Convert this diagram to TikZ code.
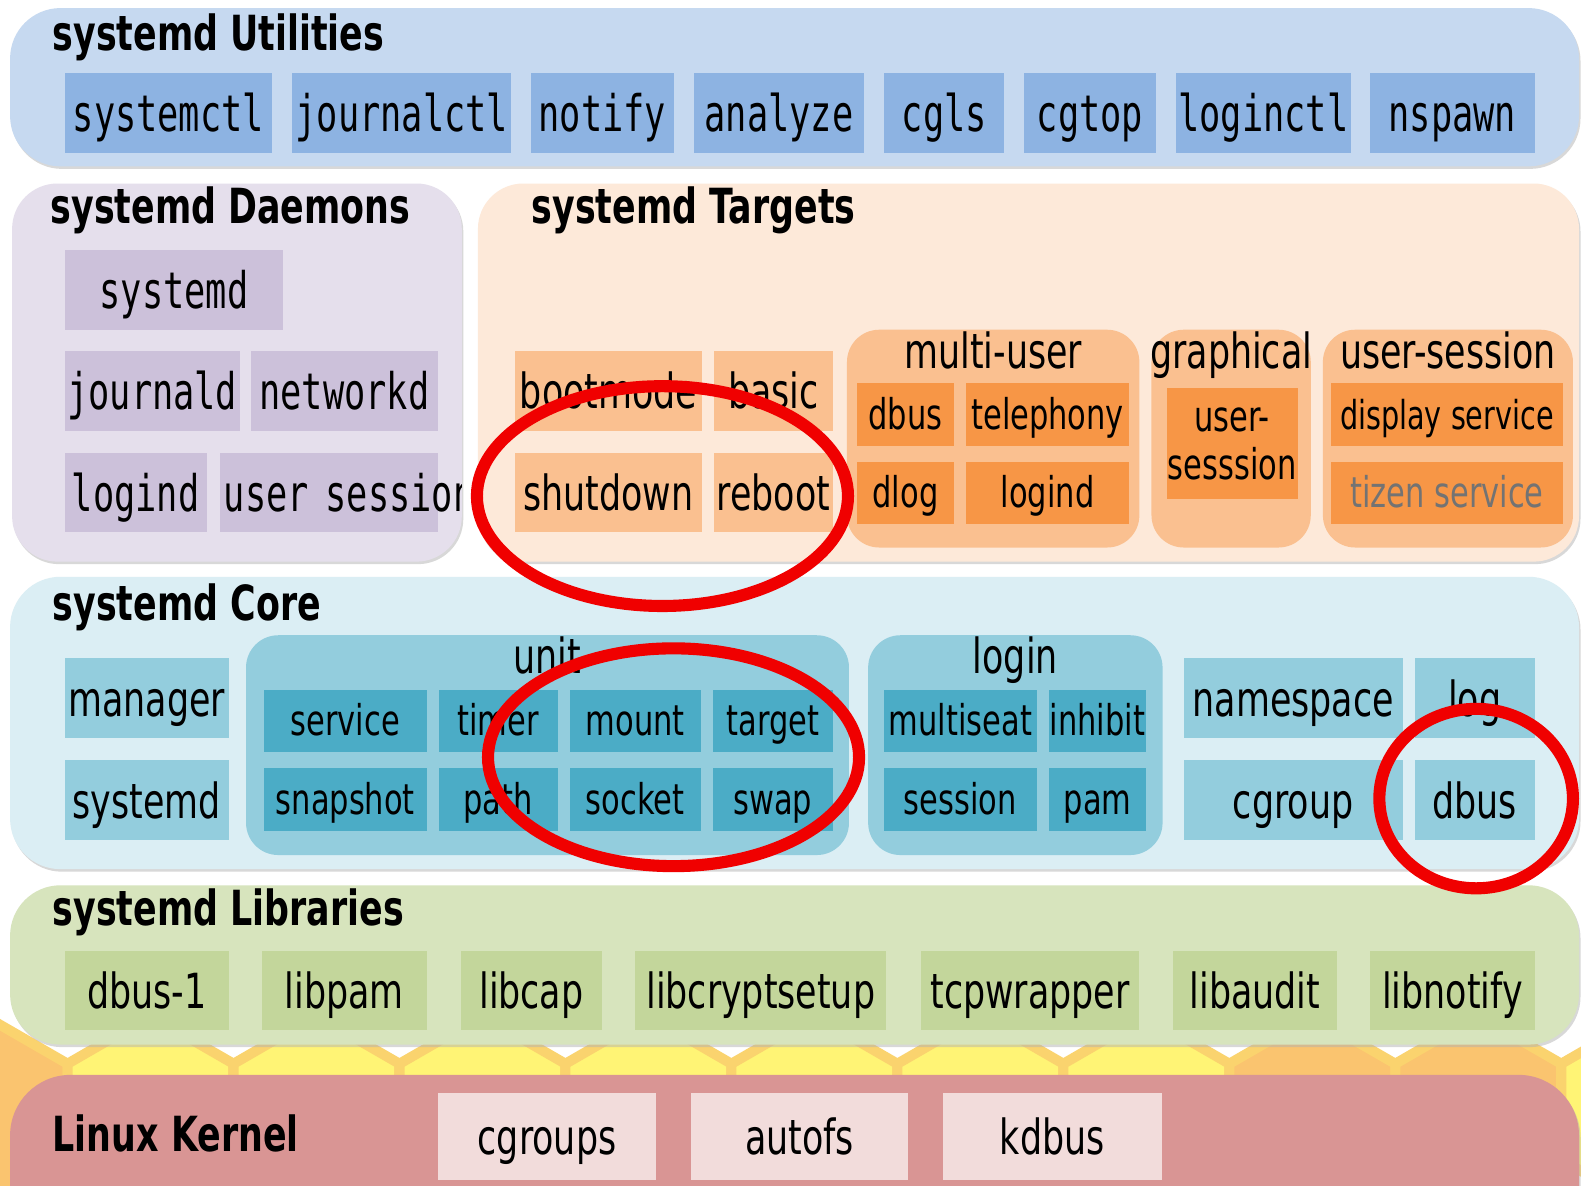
\documentclass[tikz,border=0pt]{standalone}
\usepackage{fontspec}
\setmainfont{DejaVu Sans}[FakeStretch=0.72]
\setmonofont{DejaVu Sans Mono}[FakeStretch=0.7]
\usetikzlibrary{positioning,shadows}

\definecolor{utilbg}{HTML}{C6D9F0}
\definecolor{utilbox}{HTML}{8DB3E2}
\definecolor{daemonbg}{HTML}{E5DFEC}
\definecolor{daemonbox}{HTML}{CCC1DA}
\definecolor{targetbg}{HTML}{FDE9D9}
\definecolor{targetbox}{HTML}{FAC090}
\definecolor{targetin}{HTML}{F79646}
\definecolor{corebg}{HTML}{DBEEF4}
\definecolor{corebox}{HTML}{93CDDD}
\definecolor{corein}{HTML}{4BACC6}
\definecolor{libbg}{HTML}{D7E4BD}
\definecolor{libbox}{HTML}{C3D69B}
\definecolor{kernbg}{HTML}{D99594}
\definecolor{kernbox}{HTML}{F2DCDB}
\definecolor{honey}{HTML}{FFF475}
\definecolor{honeyedge}{HTML}{FAD36E}
\definecolor{honeydark}{HTML}{FAC46F}
\definecolor{ringred}{HTML}{F00000}

\begin{document}
\begin{tikzpicture}[x=1pt, y=1pt,
  box/.style={inner sep=0pt, outer sep=0pt, minimum height=79pt, text height=42pt, text depth=6pt, font=\fontsize{48}{52}\selectfont},
  monobox/.style={box, text height=43pt, font=\ttfamily\fontsize{50}{54}\selectfont},
  inbox/.style={box, minimum height=62pt, text height=35pt, font=\fontsize{42}{48}\selectfont},
  ubox/.style={monobox, fill=utilbox, minimum height=80pt},
  dbox/.style={monobox, fill=daemonbox},
  tbox/.style={box, fill=targetbox},
  tin/.style={inbox, fill=targetin},
  cbox/.style={box, fill=corebox},
  cin/.style={inbox, fill=corein},
  lbox/.style={box, fill=libbox},
  kbox/.style={box, fill=kernbox, minimum height=86pt, text height=41pt},
  grp/.style={inner sep=0pt, outer sep=0pt, rounded corners=32pt, anchor=north west},
  gtitle/.style={inner sep=0pt, anchor=base, font=\fontsize{48}{52}\selectfont},
  title/.style={inner sep=0pt, anchor=base west, font=\bfseries\fontsize{48}{52}\selectfont},
  panel/.style={rounded corners=#1, drop shadow={shadow xshift=1.5pt, shadow yshift=-2.5pt, fill=black!30}},
  ring/.style={draw=ringred, line width=12pt}
]
\useasboundingbox (0,0) rectangle (1568,-1176);
\fill[white] (0,0) rectangle (1568,-1176);

% honeycomb under the kernel
\foreach \k/\col in {-1/honeydark,0/honey,1/honey,2/honey,3/honey,4/honey,5/honey,6/honey,7/honeydark,8/honeydark,9/honey}{
  \pgfmathsetmacro{\cx}{149.3+164.6*\k}
  \draw[draw=honeyedge, line width=10pt, fill=\col] (\cx,-1007.5) -- ++(82.3,-47.5) -- ++(0,-95)
    -- ++(-82.3,-47.5) -- ++(-82.3,47.5) -- ++(0,95) -- cycle;
}

% panels
\path[fill=utilbg, panel=50pt] (10,-8) rectangle (1566,-165);
\path[fill=daemonbg, panel=45pt] (12,-182) rectangle (458,-557);
\path[fill=targetbg, panel=45pt] (474,-182) rectangle (1566,-557);
\path[fill=corebg, panel=50pt] (10,-572) rectangle (1566,-862);
\path[fill=libbg, panel=50pt] (10,-878) rectangle (1566,-1036);
\path[fill=kernbg, panel=60pt] (10,-1066) rectangle (1566,-1240);

% systemd Utilities
\node[title] (utiltitle) at (52,-50) {systemd Utilities};
\node[ubox, minimum width=206pt, anchor=north west] (systemctl) at (64,-72) {systemctl};
\node[ubox, minimum width=217pt, right=20pt of systemctl] (journalctl) {journalctl};
\node[ubox, minimum width=141pt, right=20pt of journalctl] (notify) {notify};
\node[ubox, minimum width=169pt, right=20pt of notify] (analyze) {analyze};
\node[ubox, minimum width=119pt, right=20pt of analyze] (cgls) {cgls};
\node[ubox, minimum width=130pt, right=20pt of cgls] (cgtop) {cgtop};
\node[ubox, minimum width=174pt, right=20pt of cgtop] (loginctl) {loginctl};
\node[ubox, minimum width=163pt, right=19pt of loginctl] (nspawn) {nspawn};

% systemd Daemons
\node[title] (daemontitle) at (50,-222) {systemd Daemons};
\node[dbox, minimum width=217pt, anchor=north west] (systemd) at (64,-248) {systemd};
\node[dbox, minimum width=174pt, anchor=north west] (journald) at (64,-348) {journald};
\node[dbox, minimum width=185pt, right=11pt of journald] (networkd) {networkd};
\node[dbox, minimum width=141pt, anchor=north west] (logind) at (64,-449) {logind};
\begin{scope}
  \clip (12,-182) rectangle (458,-557);
  \node[dbox, inner xsep=4pt, text width=208pt, align=left, right=13pt of logind] (usersession) {\mbox{user session}};
\end{scope}

% systemd Targets
\node[title] (targettitle) at (527,-222) {systemd Targets};
\node[tbox, minimum width=185pt, anchor=north west] (bootmode) at (511,-348) {bootmode};
\node[tbox, minimum width=118pt, right=12pt of bootmode] (basic) {basic};
\node[tbox, minimum width=185pt, anchor=north west] (shutdown) at (511,-449) {shutdown};
\node[tbox, minimum width=118pt, right=12pt of shutdown] (reboot) {reboot};

\node[grp, fill=targetbox, minimum width=290pt, minimum height=216pt] (multiuser) at (840,-327) {};
\node[gtitle] (multiusertitle) at ([yshift=-38pt]multiuser.north) {multi-user};
\node[tin, minimum width=96pt, anchor=north west] (mudbus) at (850,-380) {dbus};
\node[tin, minimum width=162pt, right=12pt of mudbus] (telephony) {telephony};
\node[tin, minimum width=96pt, anchor=north west] (dlog) at (850,-458) {dlog};
\node[tin, minimum width=162pt, right=12pt of dlog] (mulogind) {logind};

\node[grp, fill=targetbox, minimum width=158pt, minimum height=216pt] (graphical) at (1142,-327) {};
\node[gtitle] (graphicaltitle) at ([yshift=-38pt]graphical.north) {graphical};
\node[tin, minimum width=130pt, minimum height=110pt, anchor=north west, align=center,
  text height=, text depth=] (gusersess) at (1157,-385) {user-\\sesssion};

\node[grp, fill=targetbox, minimum width=248pt, minimum height=216pt] (usersess) at (1312,-327) {};
\node[gtitle] (usersesstitle) at ([yshift=-38pt]usersess.north) {user-session};
\node[tin, minimum width=230pt, anchor=north west, font=\fontsize{39.5}{44}\selectfont] (display) at (1320,-380) {display service};
\node[tin, minimum width=230pt, anchor=north west, text=black!55] (tizen) at (1320,-458) {tizen service};

% systemd Core
\node[title] (coretitle) at (52,-615) {systemd Core};
\node[cbox, minimum width=163pt, anchor=north west] (manager) at (64,-653) {manager};
\node[cbox, minimum width=163pt, anchor=north west] (csystemd) at (64,-754) {systemd};

\node[grp, fill=corebox, minimum width=598pt, minimum height=218pt] (unit) at (244,-630) {};
\node[gtitle] (unittitle) at ([yshift=-38pt]unit.north) {unit};
\node[cin, minimum width=161pt, anchor=north west] (service) at (262,-684) {service};
\node[cin, minimum width=118pt, right=12pt of service] (timer) {timer};
\node[cin, minimum width=130pt, right=12pt of timer] (mount) {mount};
\node[cin, minimum width=119pt, right=12pt of mount] (target) {target};
\node[cin, minimum width=161pt, anchor=north west] (snapshot) at (262,-762) {snapshot};
\node[cin, minimum width=118pt, right=12pt of snapshot] (path) {path};
\node[cin, minimum width=130pt, right=12pt of path] (socket) {socket};
\node[cin, minimum width=119pt, right=12pt of socket] (swap) {swap};

\node[grp, fill=corebox, minimum width=292pt, minimum height=218pt] (login) at (861,-630) {};
\node[gtitle] (logintitle) at ([yshift=-38pt]login.north) {login};
\node[cin, minimum width=151pt, anchor=north west] (multiseat) at (877,-684) {multiseat};
\node[cin, minimum width=97pt, right=12pt of multiseat] (inhibit) {inhibit};
\node[cin, minimum width=151pt, anchor=north west] (session) at (877,-762) {session};
\node[cin, minimum width=97pt, right=12pt of session] (pam) {pam};

\node[cbox, minimum width=217pt, anchor=north west] (namespace) at (1174,-653) {namespace};
\node[cbox, minimum width=119pt, right=12pt of namespace] (log) {log};
\node[cbox, minimum width=217pt, anchor=north west] (cgroup) at (1174,-754) {cgroup};
\node[cbox, minimum width=119pt, right=12pt of cgroup] (cdbus) {dbus};

% systemd Libraries
\node[title] (libtitle) at (52,-918) {systemd Libraries};
\node[lbox, minimum width=163pt, anchor=north west] (dbusone) at (64,-943) {dbus-1};
\node[lbox, minimum width=163pt, right=33pt of dbusone] (libpam) {libpam};
\node[lbox, minimum width=140pt, right=34pt of libpam] (libcap) {libcap};
\node[lbox, minimum width=249pt, right=33pt of libcap] (libcryptsetup) {libcryptsetup};
\node[lbox, minimum width=217pt, right=34pt of libcryptsetup] (tcpwrapper) {tcpwrapper};
\node[lbox, minimum width=163pt, right=33pt of tcpwrapper] (libaudit) {libaudit};
\node[lbox, minimum width=163pt, right=33pt of libaudit] (libnotify) {libnotify};

% Linux Kernel
\node[title] (kerntitle) at (52,-1142) {Linux Kernel};
\node[kbox, minimum width=217pt, anchor=north west] (cgroups) at (434,-1084) {cgroups};
\node[kbox, minimum width=216pt, right=34pt of cgroups] (autofs) {autofs};
\node[kbox, minimum width=217pt, right=34pt of autofs] (kdbus) {kdbus};

% red rings
\draw[ring] (657,-492) ellipse [x radius=184pt, y radius=109pt];
\draw[ring] (668,-751) ellipse [x radius=184pt, y radius=108pt];
\draw[ring] (1464,-792) ellipse [x radius=96pt, y radius=89pt];
\end{tikzpicture}
\end{document}
